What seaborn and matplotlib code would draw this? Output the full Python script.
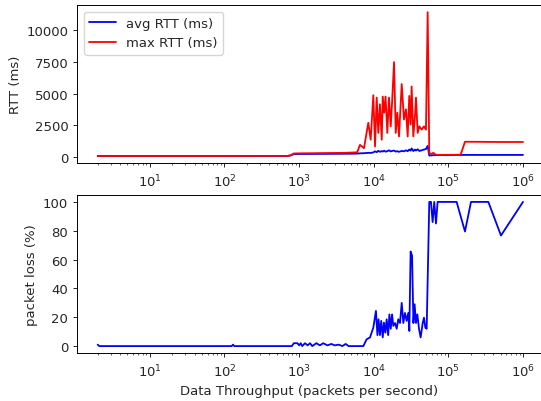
import matplotlib
matplotlib.use('Agg')
import matplotlib.pyplot as plt
import seaborn as sns

# RTT measurements vs offered rate
rate_rtt = [2, 130, 700, 780, 850, 1000, 1500, 2000, 3000, 4000, 5000, 6000,
            6540, 7400, 8450, 9100, 9870, 10400, 10950, 11500, 12100, 12800,
            13200, 13800, 14400, 15200, 16000, 16900, 17600, 18700, 19700,
            20700, 21800, 23700, 25400, 27000, 28500, 29900, 31200, 32200,
            33900, 35700, 36800, 38800, 40800, 43900, 47100, 50100, 52800,
            55500, 59700, 62800, 68200, 100000, 146000, 167000, 300000,
            500000, 1000000]
avg_rtt = [40, 40, 45, 100, 200, 205, 210, 215, 220, 225, 230, 240,
           260, 270, 300, 290, 330, 420, 350, 460, 380, 440,
           400, 470, 390, 430, 500, 410, 450, 480, 400,
           430, 380, 450, 420, 500, 430, 560, 470, 650,
           440, 560, 480, 580, 450, 500, 560, 600, 850,
           80, 100, 110, 120, 125, 130, 135, 135,
           135, 135]
max_rtt = [50, 50, 55, 120, 250, 260, 270, 280, 290, 300, 320, 340,
           930, 670, 2680, 1340, 4870, 800, 4680, 1880, 4150, 1340,
           4760, 3480, 4760, 1880, 4680, 2400, 4280, 7490, 1880,
           3480, 1600, 5750, 2940, 3750, 1600, 4810, 2540, 5560,
           1600, 3210, 4680, 1880, 2400, 2140, 2400, 2140, 11450,
           270, 216, 300, 140, 140, 150, 1180, 1170,
           1160, 1160]

# packet loss vs offered rate
rate_loss = [2, 2.1, 125, 130, 135, 700, 800, 850, 950, 1000, 1050, 1100, 1200,
             1300, 1400, 1500, 1700, 1900, 2100, 2400, 2700, 3000, 3400, 3800,
             4200, 4600, 5000, 6000, 7250, 8030, 8910, 9870, 10700, 11200,
             11600, 12100, 12600, 13200, 13700, 14300, 14900, 15600, 16200,
             16900, 17600, 18300, 19300, 20300, 21300, 22500, 23700, 24900,
             26200, 27600, 29000, 30000, 31200, 32600, 34000, 35300, 36800,
             38400, 40400, 42500, 45300, 47100, 49100, 51200, 55500, 58500,
             61500, 64700, 68200, 71800, 77100, 129000, 150000, 167000,
             201000, 343000, 507000, 1000000]
loss_pct = [1, 0, 0, 1, 0, 0, 0, 2, 2, 0.5, 2, 0, 2,
            0.5, 2, 0, 2, 0.5, 2, 0.5, 1.5, 0.5, 1, 0,
            1.5, 0, 0, 0, 0, 4.7, 6, 12.8, 24.4, 7.6,
            18.6, 7.6, 17.5, 6, 16.3, 9.3, 18.6, 7.6, 22,
            12, 22, 14, 16, 12, 18.6, 16, 30, 16,
            23, 17.5, 23, 10.5, 65.6, 62.8, 16, 29, 16,
            22, 12, 6, 16, 19.7, 12.8, 12, 100, 100,
            86, 100, 85, 100, 100, 100, 88, 79.5,
            100, 100, 76.7, 100]

x_major = [10, 100, 1000, 10000, 100000, 1000000]

sns.set_style('ticks')
plt.rcParams['font.family'] = ['DejaVu Sans']
plt.rcParams.update({
    'axes.edgecolor': 'black',
    'font.size': 9.5,
    'axes.labelsize': 9.5,
    'xtick.labelsize': 9.5,
    'ytick.labelsize': 9.5,
    'legend.fontsize': 9.5,
    'axes.linewidth': 0.7,
    'xtick.major.size': 3,
    'ytick.major.size': 3,
    'xtick.minor.size': 1.7,
    'xtick.major.width': 0.7,
    'ytick.major.width': 0.7,
    'xtick.minor.width': 0.5,
    'axes.labelpad': 3.4,
})

W, H = 541, 402
fig = plt.figure(figsize=(W / 100, H / 100), dpi=100)
left, right = 77.3 / W, 540.5 / W
ax1 = fig.add_axes([left, 1 - 164.3 / H, right - left, 158.3 / H])
ax2 = fig.add_axes([left, 1 - 354.3 / H, right - left, 158.6 / H])

for ax in (ax1, ax2):
    ax.set_xscale('log')

sns.lineplot(x=rate_rtt, y=avg_rtt, color='blue', label='avg RTT (ms)',
             linewidth=1.3, ax=ax1)
sns.lineplot(x=rate_rtt, y=max_rtt, color='red', label='max RTT (ms)',
             linewidth=1.3, ax=ax1)
ax1.set_ylabel('RTT (ms)')
ax1.set_yticks([0, 2500, 5000, 7500, 10000])
ax1.legend(loc='upper left')

sns.lineplot(x=rate_loss, y=loss_pct, color='blue', linewidth=1.3, ax=ax2)
ax2.set_ylabel('packet loss (%)')
ax2.set_xlabel('Data Throughput (packets per second)')
ax2.set_yticks([0, 20, 40, 60, 80, 100])

for ax in (ax1, ax2):
    ax.set_xticks(x_major)
    ax.set_xlim(1.066, 1.716e6)
    for s in ax.spines.values():
        s.set_visible(True)

fig.savefig('out.png', dpi=100)
